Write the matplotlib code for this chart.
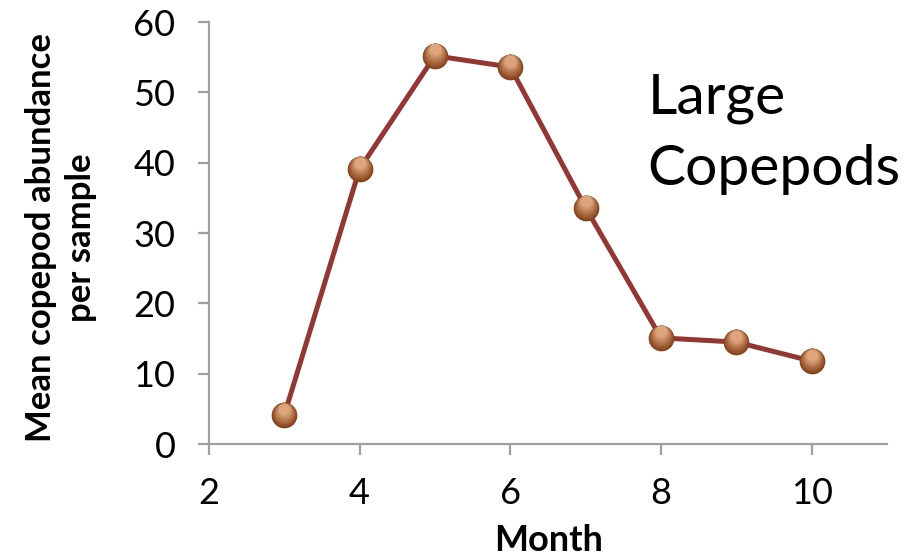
import numpy as np
import matplotlib.pyplot as plt
from matplotlib.colors import to_rgb
from matplotlib.transforms import offset_copy

plt.rcParams['font.family'] = ['Lato', 'DejaVu Sans']

months = [3, 4, 5, 6, 7, 8, 9, 10]
abundance = [4.1, 39.1, 55.2, 53.6, 33.6, 15.1, 14.5, 11.8]

x_ticks = [2, 4, 6, 8, 10]
y_ticks = [0, 10, 20, 30, 40, 50, 60]

axis_grey = '#a0a0a0'
line_red = '#943634'


def shaded_markers(ax, x, y, size=18.5, dark='#86441c', light='#dea47c', layers=8):
    # fake a vertical gradient: stack shrinking, lighter discs shifted upwards
    fig = ax.figure
    c0 = np.array(to_rgb(dark))
    c1 = np.array(to_rgb(light))
    for i in range(layers):
        f = i / (layers - 1)
        s = size * (1 - 0.55 * f)
        dy = (size - s) / 2 * 0.9
        tr = offset_copy(ax.transData, fig=fig, x=0, y=dy, units='points')
        col = c0 * (1 - f) + c1 * f
        ax.plot(x, y, linestyle='none', marker='o', markersize=s,
                markerfacecolor=col, markeredgewidth=0, transform=tr,
                zorder=3 + i * 0.01, clip_on=False)


fig = plt.figure(figsize=(9.12, 5.6), dpi=100)
ax = fig.add_axes([0.229, 0.207, 0.7436, 0.7537])

ax.plot(months, abundance, color=line_red, linewidth=3.6, zorder=2,
        solid_joinstyle='round')
shaded_markers(ax, months, abundance)

ax.set_xlim(2, 11)
ax.set_ylim(0, 60)
ax.set_xticks(x_ticks)
ax.set_yticks(y_ticks)

for side in ['top', 'right']:
    ax.spines[side].set_visible(False)
for side in ['left', 'bottom']:
    ax.spines[side].set_color(axis_grey)
    ax.spines[side].set_linewidth(1.6)

ax.tick_params(axis='both', direction='out', length=8, width=1.6,
               color=axis_grey, labelsize=26, labelcolor='black')
ax.tick_params(axis='x', pad=16)
ax.tick_params(axis='y', pad=16)

ax.set_xlabel('Month', fontsize=26, fontweight='bold')
ax.xaxis.set_label_coords(0.501, -0.19)
ax.set_ylabel('Mean copepod abundance\nper sample', fontsize=25,
              fontweight='bold', linespacing=1.3)
ax.yaxis.set_label_coords(-0.165, 0.49)

ax.text(0.647, 0.784, 'Large', transform=ax.transAxes,
        fontsize=41, ha='left', va='baseline')
ax.text(0.647, 0.614, 'Copepods', transform=ax.transAxes,
        fontsize=41, ha='left', va='baseline')

fig.savefig('out.png', dpi=100)
